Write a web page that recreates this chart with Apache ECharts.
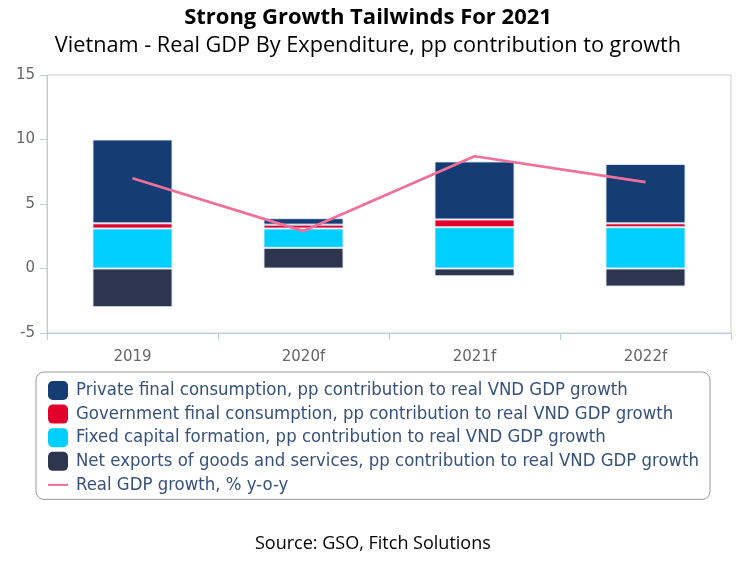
<!DOCTYPE html>
<html>
<head>
<meta charset="utf-8">
<script src="https://cdn.jsdelivr.net/npm/echarts@6/dist/echarts.min.js"></script>
<style>html,body{margin:0;padding:0;background:#fff;}#chart{width:736px;height:561px;}</style>
</head>
<body>
<div id="chart"></div>
<script>
var categories = ['2019', '2020f', '2021f', '2022f'];
var privateCons = [6.5, 0.5, 4.5, 4.6];
var govCons = [0.4, 0.3, 0.6, 0.3];
var fixedCap = [3.1, 1.5, 3.2, 3.2];
var netExports = [-3.0, 1.6, -0.6, -1.4];
var gdpGrowth = [7.0, 2.9, 8.7, 6.7];
var yTicks = {min: -5, max: 15, interval: 5};

var names = {
  priv: 'Private final consumption, pp contribution to real VND GDP growth',
  gov: 'Government final consumption, pp contribution to real VND GDP growth',
  fcf: 'Fixed capital formation, pp contribution to real VND GDP growth',
  net: 'Net exports of goods and services, pp contribution to real VND GDP growth',
  gdp: 'Real GDP growth, % y-o-y'
};

var chart = echarts.init(document.getElementById('chart'), null, {renderer: 'canvas'});
var axisBlue = '#b9cde5';
function barSeries(name, data, color) {
  return {
    name: name, type: 'bar', stack: 'total', data: data, barWidth: 80,
    itemStyle: {color: color, borderColor: 'rgba(225,235,248,0.9)', borderWidth: 1}
  };
}
chart.setOption({
  animation: false,
  backgroundColor: '#fff',
  title: [
    {text: 'Strong Growth Tailwinds For 2021', left: 'center', top: 2,
     textStyle: {fontFamily: 'Open Sans', fontWeight: 'bold', fontSize: 22, color: '#000'}},
    {text: 'Vietnam - Real GDP By Expenditure, pp contribution to growth', left: 'center', top: 30,
     textStyle: {fontFamily: 'Open Sans', fontWeight: 'normal', fontSize: 21.7, color: '#000'}},
    {text: 'Source: GSO, Fitch Solutions', left: 250, top: 530,
     textStyle: {fontFamily: 'Open Sans', fontWeight: 'normal', fontSize: 18, color: '#000'}}
  ],
  grid: {left: 47, right: 5, top: 75, bottom: 228, show: true, borderColor: '#cccccc', borderWidth: 1},
  legend: {
    orient: 'vertical', left: 36, top: 372,
    data: [
      {name: names.priv, icon: 'roundRect', itemStyle: {borderWidth: 0}},
      {name: names.gov, icon: 'roundRect', itemStyle: {borderWidth: 0}},
      {name: names.fcf, icon: 'roundRect', itemStyle: {borderWidth: 0}},
      {name: names.net, icon: 'roundRect', itemStyle: {borderWidth: 0}},
      {name: names.gdp, itemStyle: {opacity: 0, color: 'rgba(0,0,0,0)', borderWidth: 0}}
    ],
    itemWidth: 20, itemHeight: 19, itemGap: 4.6,
    padding: [9, 11, 5, 11],
    borderColor: '#999', borderWidth: 1, borderRadius: 8,
    textStyle: {fontFamily: 'DejaVu Sans', fontWeight: 'condensed', fontSize: 18.4, lineHeight: 19, color: '#36517a', padding: [0, 0, 0, 3]}
  },
  xAxis: {
    type: 'category', data: categories,
    axisLine: {onZero: false, lineStyle: {color: axisBlue, width: 1}},
    axisTick: {show: true, length: 7, lineStyle: {color: axisBlue}},
    axisLabel: {fontFamily: 'DejaVu Sans', fontSize: 15, color: '#666', margin: 17}
  },
  yAxis: {
    type: 'value', min: yTicks.min, max: yTicks.max, interval: yTicks.interval,
    axisLine: {show: true, lineStyle: {color: axisBlue, width: 1}},
    axisTick: {show: true, length: 7, lineStyle: {color: axisBlue}},
    splitLine: {show: false},
    axisLabel: {fontFamily: 'DejaVu Sans', fontSize: 15, color: '#666', margin: 12}
  },
  series: [
    barSeries(names.net, netExports, '#2e354f'),
    barSeries(names.fcf, fixedCap, '#00cfff'),
    barSeries(names.gov, govCons, '#e0002a'),
    barSeries(names.priv, privateCons, '#163c74'),
    {name: names.gdp, type: 'line', data: gdpGrowth, symbol: 'none', showSymbol: false,
     lineStyle: {color: '#f0709a', width: 2.7}, itemStyle: {color: '#f0709a'}, z: 5}
  ]
});
</script>
</body>
</html>
